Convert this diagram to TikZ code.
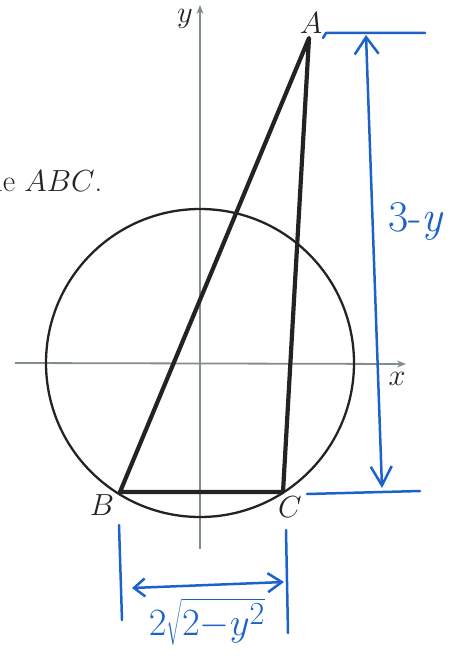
\documentclass[tikz,border=0pt]{standalone}
\usetikzlibrary{arrows.meta}
\definecolor{ink}{RGB}{35,35,35}
\definecolor{pen}{RGB}{28,98,200}
\definecolor{axiscol}{RGB}{130,142,142}
\begin{document}
\begin{tikzpicture}[x=1pt,y=-1pt,
  lbl/.style={font=\fontsize{24.88}{28}\selectfont, scale=1.226, text=ink, inner sep=0pt},
  handtxt/.style={text=pen, inner sep=0pt},
  axisline/.style={draw=axiscol, line width=1.8pt, -{Stealth[length=9pt,width=7pt]}},
  tri/.style={draw=ink, line width=4.2pt, line join=round, line cap=round},
  circ/.style={draw=ink, line width=2.3pt},
  penline/.style={draw=pen, line width=2.5pt, line cap=round, line join=round}
]
\useasboundingbox (0,0) rectangle (458,658);
% key points
\coordinate (O) at (200,363);
\coordinate (A) at (309,38);
\coordinate (B) at (120,492);
\coordinate (C) at (283,492);
% axes
\coordinate (xs) at (15,363);
\coordinate (xe) at (406,364);
\coordinate (ys) at (200,549);
\coordinate (ye) at (200,5);
\draw[axisline] (xs) -- (xe);
\draw[axisline] (ys) -- (ye);
\node[lbl] (xl) at (397,379) {$x$};
\node[lbl] (yl) at (185,19) {$y$};
% circle
\draw[circ] (O) circle[radius=154];
% triangle
\draw[tri] (A) -- (B) -- (C) -- cycle;
\node[lbl] (Al) at (311,23) {$A$};
\node[lbl] (Bl) at (102,505) {$B$};
\node[lbl] (Cl) at (290,507) {$C$};
% sentence fragment cut by the left edge
\node[lbl, anchor=base west] (frag) at (-5,191) {le $ABC$.};
% blue annotations: height
\coordinate (t1) at (323,38);
\coordinate (t0) at (326,33);
\coordinate (t2) at (425,33);
\draw[penline] (t1) -- (t0) -- (t2);
\coordinate (vt) at (366,35);
\coordinate (vb) at (382,488);
\draw[penline, {Straight Barb[length=17pt,width=24pt,line width=2.5pt]}-{Straight Barb[length=19pt,width=21pt,line width=2.5pt]}] (vt) -- (vb);
\coordinate (b1) at (307,494);
\coordinate (b2) at (420,491);
\draw[penline] (b1) -- (b2);
\node[handtxt, font=\fontsize{44}{46}\selectfont] (h1) at (416,221) {3-\textit{y}};
% blue annotations: base
\coordinate (l1) at (119,525);
\coordinate (l2) at (122,620);
\coordinate (r1) at (286,530);
\coordinate (r2) at (288,633);
\draw[penline] (l1) -- (l2);
\draw[penline] (r1) -- (r2);
\coordinate (dl) at (132,588);
\coordinate (dr) at (284,582);
\draw[penline, {Straight Barb[length=11pt,width=18pt,line width=2.5pt]}-{Straight Barb[length=14pt,width=19pt,line width=2.5pt]}] (dl) -- (dr);
\node[handtxt, font=\fontsize{24.88}{28}\selectfont, scale=1.55] (h2) at (207,622) {$2\sqrt{2{-}y^2}$};
\end{tikzpicture}
\end{document}
